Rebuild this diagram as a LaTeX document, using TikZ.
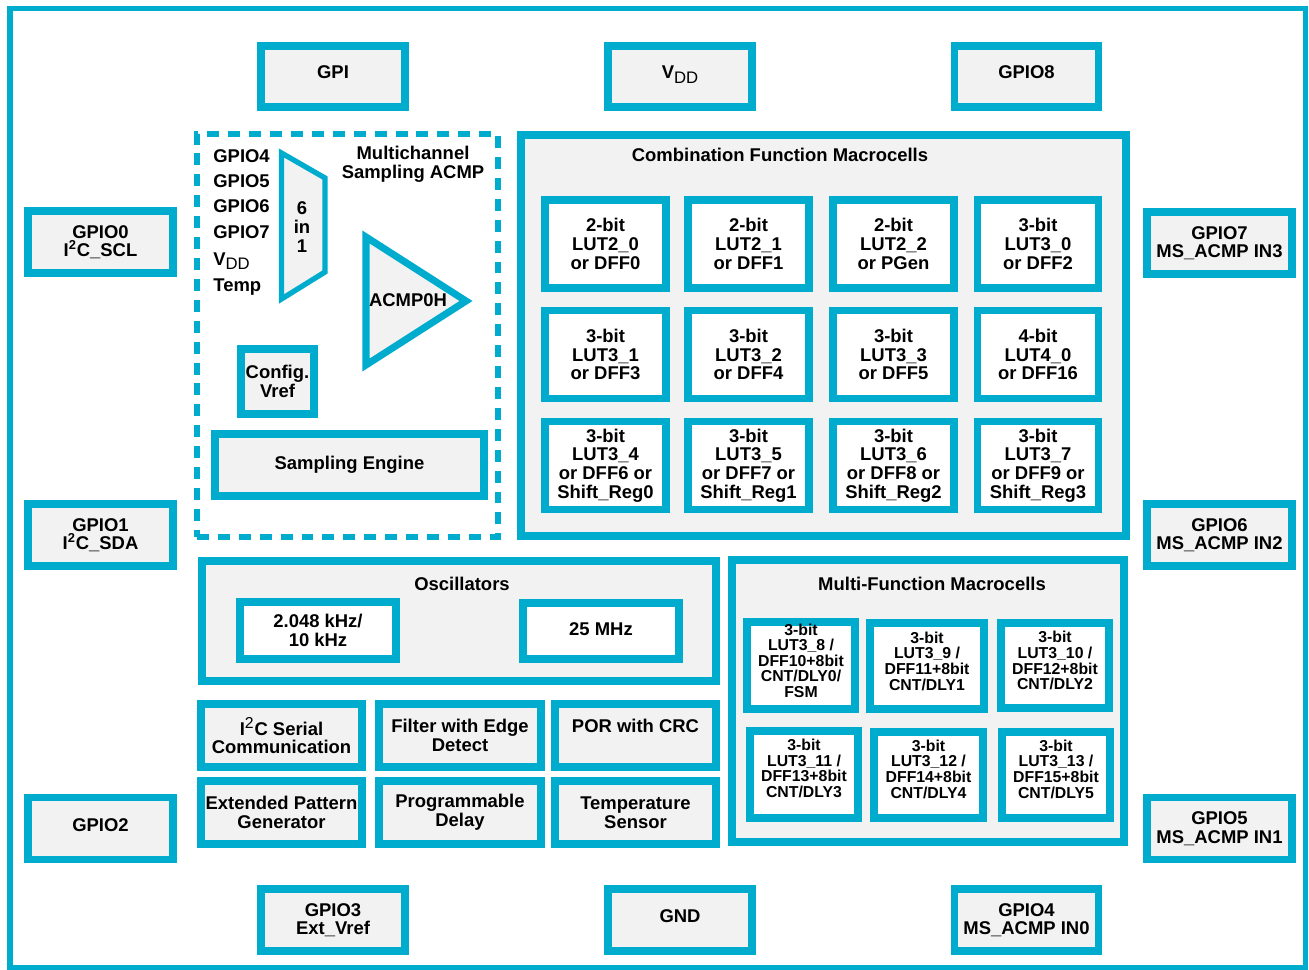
\documentclass[tikz,border=0pt]{standalone}
\usepackage{fontspec}
\setmainfont{Liberation Sans}
\definecolor{tiblue}{RGB}{0, 172, 205}
\definecolor{boxgray}{RGB}{242, 242, 242}
\usetikzlibrary{positioning}
\newcommand{\vdd}{V\raisebox{-0.45ex}{\mdseries\fontsize{9.5}{9.5}\selectfont DD}}
\tikzset{
  txt/.style={inner sep=0pt, align=center, font=\bfseries\fontsize{10.5}{10.6}\selectfont},
  blk/.style={txt, draw=tiblue, fill=boxgray, line width=4.3pt},
  cell/.style={blk, fill=white},
  mfcell/.style={cell, line width=4pt, text depth=5.6pt, font=\bfseries\fontsize{9}{8.9}\selectfont},
  sz/.style 2 args={minimum width=#1*0.02cm, minimum height=#2*0.02cm},
  lift/.style={text depth=#1},
}

\begin{document}
\begin{tikzpicture}[x=0.02cm, y=-0.02cm]
  \useasboundingbox (0,0) rectangle (1309,970);

  % Chip outline
  \draw[tiblue, line width=3.4pt] (10,8.5) rectangle (1305.5,967.5);

  % Pins
  \node[blk, lift=4.5pt, sz={144}{61}] (pgpi) at (333,76.5) {GPI};
  \node[blk, lift=4.5pt, sz={144}{61}] (pvdd) at (680,76.5) {\vdd};
  \node[blk, lift=4.5pt, sz={144}{61}] (pgpio8) at (1026.5,76.5) {GPIO8};
  \node[blk, sz={145}{62}] (pgpio0) at (100.5,242) {GPIO0\\I\textsuperscript{2}C\_SCL};
  \node[blk, sz={145}{62}] (pgpio1) at (100.5,535) {GPIO1\\I\textsuperscript{2}C\_SDA};
  \node[blk, lift=4pt, sz={145}{62}] (pgpio2) at (100.5,828.5) {GPIO2};
  \node[blk, sz={145}{62}] (pgpio7) at (1219.5,243) {GPIO7\\MS\_ACMP IN3};
  \node[blk, sz={145}{62}] (pgpio6) at (1219.5,535) {GPIO6\\MS\_ACMP IN2};
  \node[blk, sz={145}{62}] (pgpio5) at (1219.5,828.5) {GPIO5\\MS\_ACMP IN1};
  \node[blk, sz={144}{62}] (pgpio3) at (333,920) {GPIO3\\Ext\_Vref};
  \node[blk, lift=4.5pt, sz={144}{62}] (pgnd) at (680,920) {GND};
  \node[blk, sz={144}{62}] (pgpio4) at (1026.5,920) {GPIO4\\MS\_ACMP IN0};

  % Multichannel sampling ACMP
  \node[draw=tiblue, line width=3.4pt, dash pattern=on 6.8pt off 5.1pt, sz={301}{403}] (msacmp) at (347.5,335.5) {};
  \node[txt] (msttl) at (413,164) {Multichannel\\Sampling ACMP};
  \node[txt, anchor=west] (ingpio4) at (213,156) {GPIO4};
  \node[txt, anchor=west] (ingpio5) at (213,181) {GPIO5};
  \node[txt, anchor=west] (ingpio6) at (213,206) {GPIO6};
  \node[txt, anchor=west] (ingpio7) at (213,232) {GPIO7};
  \node[txt, anchor=west] (invdd) at (213,261) {\vdd};
  \node[txt, anchor=west] (intemp) at (213,287) {Temp};
  \draw[tiblue, fill=boxgray, line width=3pt, line join=miter] (281.5,153) -- (325,178) -- (325,272) -- (281.5,299) -- cycle;
  \node[txt] (mux) at (302,227) {6\\in\\1};
  \draw[tiblue, fill=boxgray, line width=4pt, line join=miter] (366,237) -- (466,301) -- (366,365) -- cycle;
  \node[txt] (acmp) at (408,300) {ACMP0H};
  \node[blk, sz={73}{65}] (cfgvref) at (277.5,381.5) {Config.\\Vref};
  \node[blk, sz={269}{62}] (sampeng) at (349.5,465) {Sampling Engine};

  % Combination function macrocells
  \node[blk, sz={605}{401}] (cfm) at (823.5,335.5) {};
  \node[txt] (cfmttl) at (780,155) {Combination Function Macrocells};
  \node[cell, sz={121}{88}] (lut20) at (605.5,244) {2-bit\\LUT2\_0\\or DFF0};
  \node[cell, sz={121}{88}] (lut21) at (748.5,244) {2-bit\\LUT2\_1\\or DFF1};
  \node[cell, sz={121}{88}] (lut22) at (893.5,244) {2-bit\\LUT2\_2\\or PGen};
  \node[cell, sz={121}{88}] (lut30) at (1038,244) {3-bit\\LUT3\_0\\or DFF2};
  \node[cell, sz={121}{88}] (lut31) at (605.5,354.5) {3-bit\\LUT3\_1\\or DFF3};
  \node[cell, sz={121}{88}] (lut32) at (748.5,354.5) {3-bit\\LUT3\_2\\or DFF4};
  \node[cell, sz={121}{88}] (lut33) at (893.5,354.5) {3-bit\\LUT3\_3\\or DFF5};
  \node[cell, sz={121}{88}] (lut40) at (1038,354.5) {4-bit\\LUT4\_0\\or DFF16};
  \node[cell, sz={121}{88}] (lut34) at (605.5,465.5) {3-bit\\LUT3\_4\\or DFF6 or\\Shift\_Reg0};
  \node[cell, sz={121}{88}] (lut35) at (748.5,465.5) {3-bit\\LUT3\_5\\or DFF7 or\\Shift\_Reg1};
  \node[cell, sz={121}{88}] (lut36) at (893.5,465.5) {3-bit\\LUT3\_6\\or DFF8 or\\Shift\_Reg2};
  \node[cell, sz={121}{88}] (lut37) at (1038,465.5) {3-bit\\LUT3\_7\\or DFF9 or\\Shift\_Reg3};

  % Oscillators
  \node[blk, sz={514}{120}] (osc) at (459,621) {};
  \node[txt] (oscttl) at (462,584) {Oscillators};
  \node[cell, sz={156}{57}] (osclf) at (318,630.5) {2.048 kHz/\\10 kHz};
  \node[cell, lift=2.5pt, sz={156}{56}] (oschf) at (601,631) {25 MHz};

  % Other blocks
  \node[blk, sz={161}{63}] (i2c) at (281.5,735.5) {I\textsuperscript{\mdseries\fontsize{9}{9}\selectfont 2}C Serial\\Communication};
  \node[blk, sz={162}{63}] (filt) at (460,735.5) {Filter with Edge\\Detect};
  \node[blk, sz={161}{63}] (por) at (635.5,735.5) {POR with CRC\\\mbox{}};
  \node[blk, sz={161}{63}] (epg) at (281.5,812.5) {Extended Pattern\\Generator};
  \node[blk, sz={162}{63}] (pdly) at (460,812.5) {Programmable\\Delay};
  \node[blk, sz={161}{63}] (tsens) at (635.5,812.5) {Temperature\\Sensor};

  % Multi-function macrocells
  \node[blk, sz={392}{282}] (mfm) at (928,701) {};
  \node[txt] (mfmttl) at (932,584) {Multi-Function Macrocells};
  \node[mfcell, sz={108}{87}] (lut38) at (801,665.5) {3-bit\\LUT3\_8 /\\DFF10+8bit\\CNT/DLY0/\\FSM};
  \node[mfcell, sz={114}{86}] (lut39) at (927,666) {3-bit\\LUT3\_9 /\\DFF11+8bit\\CNT/DLY1};
  \node[mfcell, sz={108}{85}] (lut310) at (1055,665.5) {3-bit\\LUT3\_10 /\\DFF12+8bit\\CNT/DLY2};
  \node[mfcell, lift=7pt, sz={108}{87}] (lut311) at (804,774.5) {3-bit\\LUT3\_11 /\\DFF13+8bit\\CNT/DLY3};
  \node[mfcell, lift=7pt, sz={109}{86}] (lut312) at (928.5,775) {3-bit\\LUT3\_12 /\\DFF14+8bit\\CNT/DLY4};
  \node[mfcell, lift=7pt, sz={108}{86}] (lut313) at (1056,775) {3-bit\\LUT3\_13 /\\DFF15+8bit\\CNT/DLY5};
\end{tikzpicture}
\end{document}
